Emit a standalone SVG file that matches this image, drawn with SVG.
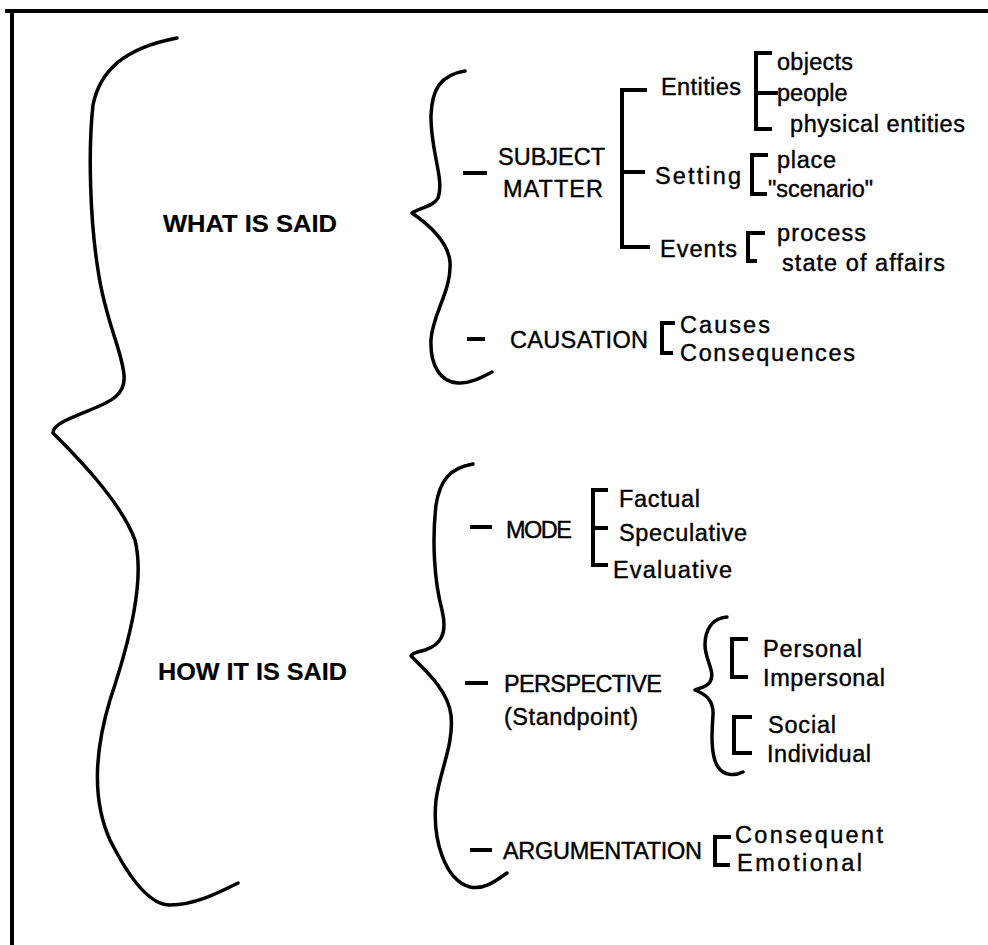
<svg xmlns="http://www.w3.org/2000/svg" width="988" height="945" viewBox="0 0 988 945">
<style>
text{font-family:"Liberation Sans",Arial,Helvetica,sans-serif;font-size:23.5px;fill:#000;stroke:#000;stroke-width:0.4px}
text.h{font-weight:bold;font-size:24px;stroke-width:0.2px}
.br{fill:none;stroke:#000;stroke-width:4;stroke-linecap:butt;stroke-linejoin:miter}
.cb{fill:none;stroke:#000;stroke-width:3.5;stroke-linecap:round;stroke-linejoin:round}
.ds{stroke:#000;stroke-width:4}
.frame{stroke:#000;stroke-width:4;fill:none}
</style>
<rect width="988" height="945" fill="#fff"/>
<path class="frame" d="M5,11 H988 M12,9 V945"/>

<g id="connectors">
  <path class="cb" d="M177,38 C125,48 100,70 93,105 C88,150 90,220 98,270 C105,320 122,350 124,375 C126,395 110,402 90,410 C70,418 52,425 53,433 C75,455 120,500 135,540 C145,580 130,640 110,700 C95,750 92,800 110,840 C130,880 150,905 170,905 C195,905 220,892 238,883"/>
  <path class="cb" d="M465,71 C440,75 432,90 431,115 C430,150 445,180 438,198 C433,207 418,208 412,213 C425,222 448,240 450,262 C452,290 432,315 431,340 C430,365 440,382 458,383 C470,384 482,377 492,372"/>
  <path class="cb" d="M473,464 C450,468 440,480 436,505 C432,540 434,580 442,610 C448,635 440,645 425,650 C418,652 412,653 411,656 C425,670 448,690 451,715 C454,745 440,770 436,800 C432,840 445,880 470,887 C485,890 497,880 507,873"/>
  <path class="cb" d="M727,617 C712,618 705,630 705,645 C705,660 716,672 710,682 C706,688 698,688 695,690 C705,694 714,700 713,715 C712,730 710,755 718,767 C724,776 735,776 743,772"/>
  <line class="ds" x1="463" y1="173" x2="487" y2="173"/>
  <line class="ds" x1="467" y1="339" x2="485" y2="339"/>
  <line class="ds" x1="470" y1="527" x2="492" y2="527"/>
  <line class="ds" x1="465" y1="683" x2="488" y2="683"/>
  <line class="ds" x1="470" y1="850" x2="492" y2="850"/>
  <path class="br" d="M647,90 H622 V247 H650 M622,172 H645"/>
  <path class="br" d="M772,53 H756 V129 H772 M756,93 H778"/>
  <path class="br" d="M768,155 H752 V194 H767"/>
  <path class="br" d="M765,233 H748 V261 H757"/>
  <path class="br" d="M675,323 H662 V353 H673"/>
  <path class="br" d="M608,490 H593 V565 H608 M593,528 H608"/>
  <path class="br" d="M748,639 H732 V677 H748"/>
  <path class="br" d="M752,717 H734 V753 H752"/>
  <path class="br" d="M731,837 H715 V865 H730"/>
</g>

<g id="what-is-said"><text class="h" x="163" y="232" textLength="174" lengthAdjust="spacingAndGlyphs">WHAT IS SAID</text></g>
<g id="how-it-is-said"><text class="h" x="158" y="680" textLength="189" lengthAdjust="spacingAndGlyphs">HOW IT IS SAID</text></g>

<g id="subject-matter">
  <text x="498" y="165" textLength="107" lengthAdjust="spacing">SUBJECT</text>
  <text x="503" y="197" textLength="100" lengthAdjust="spacing">MATTER</text>
</g>
<g id="entities"><text x="661" y="95" textLength="80" lengthAdjust="spacing">Entities</text></g>
<g id="objects"><text x="777" y="70" textLength="76" lengthAdjust="spacing">objects</text></g>
<g id="people"><text x="777" y="101">people</text></g>
<g id="physical-entities"><text x="790" y="132" textLength="175" lengthAdjust="spacing">physical entities</text></g>
<g id="setting"><text x="655" y="184" textLength="86" lengthAdjust="spacing">Setting</text></g>
<g id="place"><text x="777" y="168" textLength="59" lengthAdjust="spacing">place</text></g>
<g id="scenario"><text x="768" y="197" textLength="105" lengthAdjust="spacing">"scenario"</text></g>
<g id="events"><text x="660" y="257" textLength="77" lengthAdjust="spacing">Events</text></g>
<g id="process"><text x="777" y="241" textLength="89" lengthAdjust="spacing">process</text></g>
<g id="state-of-affairs"><text x="782" y="271" textLength="163" lengthAdjust="spacing">state of affairs</text></g>

<g id="causation"><text x="510" y="348" textLength="138" lengthAdjust="spacing">CAUSATION</text></g>
<g id="causes"><text x="680" y="333" textLength="90" lengthAdjust="spacing">Causes</text></g>
<g id="consequences"><text x="680" y="361" textLength="175" lengthAdjust="spacing">Consequences</text></g>

<g id="mode"><text x="506" y="538" textLength="66" lengthAdjust="spacing">MODE</text></g>
<g id="factual"><text x="619" y="507" textLength="81" lengthAdjust="spacing">Factual</text></g>
<g id="speculative"><text x="619" y="541" textLength="128" lengthAdjust="spacing">Speculative</text></g>
<g id="evaluative"><text x="613" y="578" textLength="119" lengthAdjust="spacing">Evaluative</text></g>

<g id="perspective">
  <text x="504" y="692" textLength="158" lengthAdjust="spacing">PERSPECTIVE</text>
  <text x="504" y="725" textLength="134" lengthAdjust="spacing">(Standpoint)</text>
</g>
<g id="personal"><text x="763" y="657" textLength="99" lengthAdjust="spacing">Personal</text></g>
<g id="impersonal"><text x="763" y="686" textLength="122" lengthAdjust="spacing">Impersonal</text></g>
<g id="social"><text x="768" y="733" textLength="68" lengthAdjust="spacing">Social</text></g>
<g id="individual"><text x="767" y="762" textLength="104" lengthAdjust="spacing">Individual</text></g>

<g id="argumentation"><text x="503" y="859" textLength="199" lengthAdjust="spacing">ARGUMENTATION</text></g>
<g id="consequent"><text x="735" y="843" textLength="148" lengthAdjust="spacing">Consequent</text></g>
<g id="emotional"><text x="737" y="871" textLength="125" lengthAdjust="spacing">Emotional</text></g>
</svg>
